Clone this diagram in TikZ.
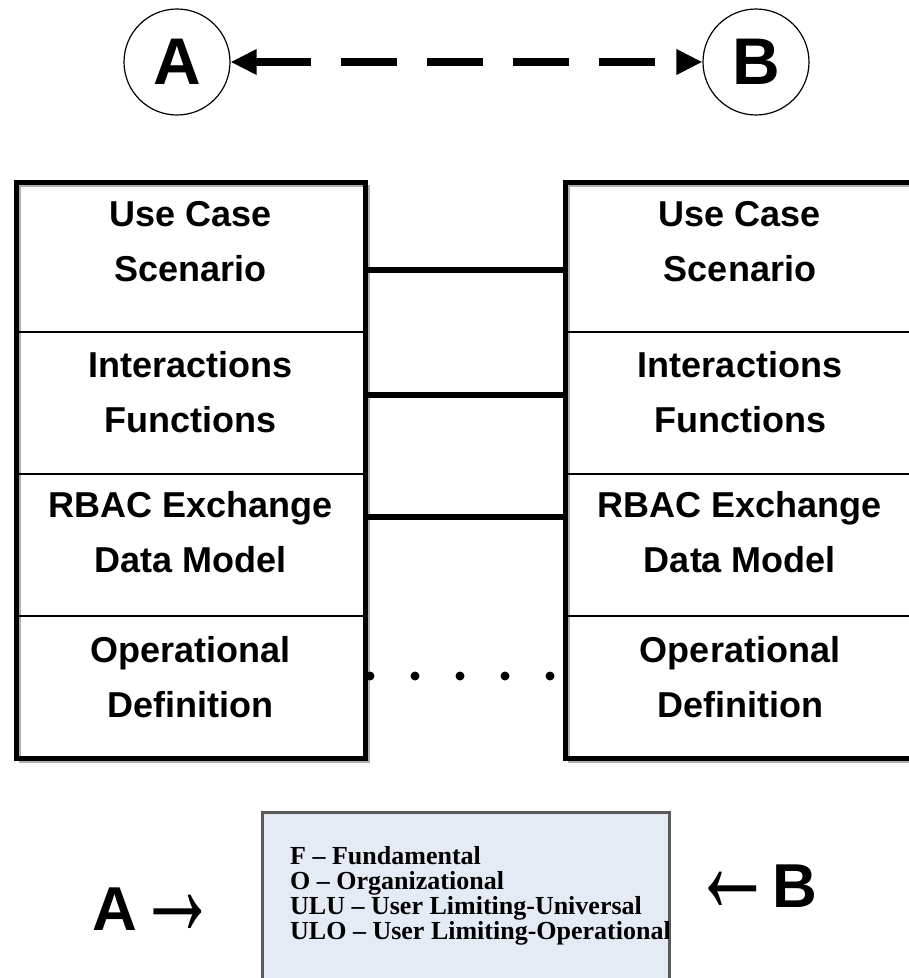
\documentclass[tikz,border=0pt]{standalone}
\usepackage{fontspec}
\usepackage{graphicx}
\setmainfont{Liberation Sans}
\newfontfamily\legendfont{Liberation Serif}
\usetikzlibrary{arrows.meta}
\definecolor{legendfill}{RGB}{229,235,245}
\definecolor{legendline}{RGB}{90,90,90}
\definecolor{shadowgray}{RGB}{175,175,175}
\newcommand{\bigarrowR}{\raisebox{-5pt}{\scalebox{1.3}[2.3]{→}}}
\newcommand{\bigarrowL}{\raisebox{-5pt}{\scalebox{1.3}[2.3]{←}}}
\tikzset{
  letter/.style={circle, draw, line width=1.2pt, minimum size=106pt, inner sep=0pt, font=\fontsize{66}{66}\selectfont\bfseries},
  dasharrow/.style={line width=8pt, dash pattern=on 56pt off 30pt, {Triangle[length=26pt,width=24pt]}-{Triangle[length=26pt,width=24pt]}},
  stackframe/.style={line width=5pt},
  stackshadow/.style={draw=shadowgray, line width=1.5pt},
  divider/.style={line width=1.5pt},
  layertext/.style={align=center, font=\fontsize{36}{55}\selectfont\bfseries, inner sep=0pt},
  link/.style={line width=6pt},
  dotlink/.style={line width=9pt, line cap=round, dash pattern=on 0pt off 45pt},
  legendbox/.style={draw=legendline, fill=legendfill, line width=2pt, minimum width=406pt, minimum height=178pt, anchor=north west, inner sep=0pt},
  legendtext/.style={anchor=base west, inner sep=0pt, font=\legendfont\fontsize{26}{26}\selectfont\bfseries},
  sidelabel/.style={anchor=base, inner sep=0pt, font=\fontsize{62}{62}\selectfont\bfseries},
}
\begin{document}
\begin{tikzpicture}[x=1pt,y=-1pt]
\useasboundingbox (0,0) rectangle (909,978);
\clip (0,0) rectangle (909,978);

% top circles
\node[letter] (A) at (177,62) {A};
\node[letter] (B) at (756,62) {B};
\draw[dasharrow] (A) -- (B);

% left stack
\draw[stackshadow] (20,186) rectangle (369,762);
\draw[stackframe] (16,182) rectangle (365,758);
\foreach \yy in {332,474,616} \draw[divider] (16,\yy) -- (365,\yy);
\node[layertext] (L1) at (190.5,242) {Use Case\\Scenario};
\node[layertext] (L2) at (190.5,392) {Interactions\\Functions};
\node[layertext] (L3) at (190.5,532) {RBAC Exchange\\Data Model};
\node[layertext] (L4) at (190.5,677) {Operational\\Definition};

% right stack
\draw[stackshadow] (569,186) rectangle (919,762);
\draw[stackframe] (565,182) rectangle (915,758);
\foreach \yy in {332,474,616} \draw[divider] (565,\yy) -- (915,\yy);
\node[layertext] (R1) at (740,242) {Use Case\\Scenario};
\node[layertext] (R2) at (740,392) {Interactions\\Functions};
\node[layertext] (R3) at (740,532) {RBAC Exchange\\Data Model};
\node[layertext] (R4) at (740,677) {Operational\\Definition};

% connectors
\coordinate (c1l) at (366,270); \coordinate (c1r) at (564,270);
\coordinate (c2l) at (366,395); \coordinate (c2r) at (564,395);
\coordinate (c3l) at (366,517); \coordinate (c3r) at (564,517);
\coordinate (d1) at (370,676); \coordinate (d2) at (551,676);
\draw[link] (c1l) -- (c1r);
\draw[link] (c2l) -- (c2r);
\draw[link] (c3l) -- (c3r);
\draw[dotlink] (d1) -- (d2);

% legend
\node[legendbox] (legend) at (262,812) {};
\begin{scope}
\clip (legend.north west) rectangle (legend.south east);
\node[legendtext] (g1) at (290,864) {F – Fundamental};
\node[legendtext] (g2) at (290,889) {O – Organizational};
\node[legendtext] (g3) at (290,914) {ULU – User Limiting-Universal};
\node[legendtext] (g4) at (290,939) {ULO – User Limiting-Operational};
\end{scope}
\draw[draw=legendline, line width=2pt] (legend.north west) rectangle (legend.south east);

% side labels
\node[sidelabel] (sa) at (155,930) {A\bigarrowR};
\node[sidelabel] (sb) at (755,907) {\bigarrowL B};
\end{tikzpicture}
\end{document}
